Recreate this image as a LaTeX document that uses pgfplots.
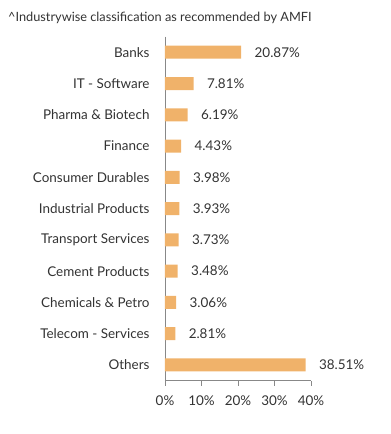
\documentclass[border=0pt]{standalone}
\usepackage{pgfplots}
\pgfplotsset{compat=1.18}
\usepackage{fontspec}
\setmainfont{Lato}
\definecolor{barc}{HTML}{F0B26A}
\definecolor{txt}{HTML}{333333}
\definecolor{axc}{HTML}{888888}
\begin{document}
\begin{tikzpicture}
\useasboundingbox (-165bp,-53.4bp) rectangle (226bp,380.6bp);
\begin{axis}[
  at={(0,0)}, anchor=south west,
  scale only axis, width=146bp, height=344bp,
  xbar, bar width=13bp, bar shift=0pt,
  xmin=0, xmax=40,
  ymin=-0.5, ymax=10.5, y dir=reverse,
  axis x line*=bottom, axis y line*=left,
  axis line style={axc, line width=0.8pt},
  tick align=outside,
  xtick={0,10,20,30,40},
  xticklabel={\pgfmathprintnumber{\tick}\%},
  ytick={0,...,10},
  yticklabels={Banks, IT - Software, Pharma \& Biotech, Finance, Consumer Durables, Industrial Products, Transport Services, Cement Products, Chemicals \& Petro, Telecom - Services, Others},
  minor ytick={-0.5,0.5,...,10.5},
  major tick length=5bp, minor tick length=5bp,
  every tick/.style={axc, line width=0.8pt},
  y tick style={draw=none},
  minor y tick style={axc, line width=0.8pt},
  yticklabel style={font=\fontsize{13.5}{15}\selectfont, text=txt, xshift=-7bp},
  xticklabel style={font=\fontsize{13.5}{15}\selectfont, text=txt, yshift=-7bp},
  /pgf/number format/assume math mode=true,
  nodes near coords={\pgfmathprintnumber[fixed,fixed zerofill,precision=2]{\pgfplotspointmeta}\%},
  nodes near coords style={font=\fontsize{13.5}{15}\selectfont, text=txt, anchor=west, xshift=10bp},
  point meta=x,
  clip=false,
]
\addplot[fill=barc, draw=none] coordinates {
(20.87,0) (7.81,1) (6.19,2) (4.43,3) (3.98,4) (3.93,5) (3.73,6) (3.48,7) (3.06,8) (2.81,9) (38.51,10)
};
\end{axis}
\node[anchor=base west, font=\fontsize{12.8}{14}\selectfont, text=txt, inner sep=0pt] at (-157bp,358.6bp) {\textasciicircum Industrywise classification as recommended by AMFI};
\end{tikzpicture}
\end{document}
